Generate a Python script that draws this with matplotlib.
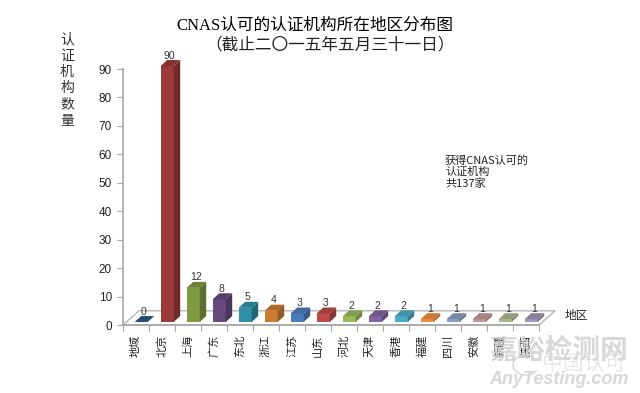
import matplotlib
matplotlib.use("Agg")
import matplotlib.pyplot as plt
from matplotlib.colors import to_rgb
from matplotlib.patches import Polygon, Arc

cjk = ["Noto Sans CJK SC", "DejaVu Sans"]
serif_cjk = ["Liberation Serif", "Noto Sans CJK SC"]
plt.rcParams["font.family"] = ["Liberation Sans", "Noto Sans CJK SC"]

regions = ["地域", "北京", "上海", "广东", "东北", "浙江", "江苏", "山东",
           "河北", "天津", "香港", "福建", "四川", "安徽", "新疆", "陕西"]
counts = [0, 90, 12, 8, 5, 4, 3, 3, 2, 2, 2, 1, 1, 1, 1, 1]
colors = ["#2a5a8a", "#9c3a3a", "#7f9a41", "#65497f", "#2f8fa6", "#cc7a30",
          "#4a7ebb", "#be4b48", "#9bbb59", "#8064a2", "#4bacc6", "#f0903f",
          "#8ba0c0", "#c49a98", "#a9bb8e", "#a497b8"]
y_ticks = list(range(0, 100, 10))

W, H = 640, 393
fig = plt.figure(figsize=(W / 100, H / 100), dpi=100)
ax = fig.add_axes([123 / W, 1 - 325 / H, 416 / W, 256 / H])
ax.set_xlim(0, len(regions))
ax.set_ylim(0, 90)
ax.patch.set_alpha(0)

# fake 3d depth, in data units
floor_dx, floor_dy = 0.62, 5
bar_w, bar_dx, bar_dy = 0.5, 0.25, 2.1
bar_shift, base = 0.2, 1.05


def shade(c, k):
    return tuple(v * k for v in to_rgb(c))


# floor of the chart
ax.add_patch(Polygon([(0, 0), (floor_dx, floor_dy), (len(regions) + floor_dx, floor_dy),
                      (len(regions), 0)], closed=True, fc="white", ec="#b5b5b5", lw=1,
                     clip_on=False, zorder=1))

for i, (v, c) in enumerate(zip(counts, colors)):
    x0 = i + 0.5 + bar_shift - bar_w / 2
    x1 = x0 + bar_w
    top = base + v
    ax.bar(x0, v, width=bar_w, bottom=base, align="edge", color=c, zorder=3, clip_on=False)
    ax.add_patch(Polygon([(x1, base), (x1 + bar_dx, base + bar_dy), (x1 + bar_dx, top + bar_dy),
                          (x1, top)], closed=True, fc=shade(c, 0.72), ec="none",
                         clip_on=False, zorder=3))
    ax.add_patch(Polygon([(x0, top), (x0 + bar_dx, top + bar_dy), (x1 + bar_dx, top + bar_dy),
                          (x1, top)], closed=True, fc=shade(c, 0.85), ec="none",
                         clip_on=False, zorder=3))
    ax.text(i + 0.5 + 0.3, top + bar_dy - 0.2, str(v), ha="center", va="bottom",
            fontsize=7.5, color="#333333", zorder=4)

for s in ["top", "right"]:
    ax.spines[s].set_visible(False)
for s in ["left", "bottom"]:
    ax.spines[s].set_color("#a6a6a6")
    ax.spines[s].set_linewidth(1.2)

ax.set_yticks(y_ticks)
ax.tick_params(axis="y", length=4, color="#a6a6a6", labelsize=8.5, labelcolor="#222222", pad=4)
ax.set_xticks(range(len(regions) + 1))
ax.tick_params(axis="x", which="major", length=4, color="#a6a6a6", labelbottom=False)
ax.set_xticks([i + 0.5 for i in range(len(regions))], minor=True)
ax.set_xticklabels(regions, minor=True, rotation=90, fontsize=8, color="#222222", family=cjk)
ax.tick_params(axis="x", which="minor", length=0, pad=7)

fig.text(315 / W, 1 - 26 / H, "CNAS认可的认证机构所在地区分布图", ha="center", va="center",
         fontsize=12, family=serif_cjk, color="black")
fig.text(330 / W, 1 - 45 / H, "（截止二〇一五年五月三十一日）", ha="center", va="center",
         fontsize=12, family=cjk, color="#222222")
fig.text(67 / W, 1 - 80 / H, "\n".join("认证机构数量"), ha="center", va="center",
         fontsize=10, family=cjk, color="#333333", linespacing=1.2)
fig.text(445 / W, 1 - 172 / H, "获得CNAS认可的\n认证机构\n共137家", ha="left", va="center",
         fontsize=8, family=cjk, color="#222222", linespacing=1.15)
fig.text(565 / W, 1 - 315 / H, "地区", ha="left", va="center", fontsize=8.5,
         family=cjk, color="#222222")

# watermark
fig.text(559 / W, 1 - 351 / H, "嘉峪检测网", ha="center", va="center", fontsize=20,
         family=cjk, weight="bold", color="#cfcfcf", alpha=0.8, zorder=10)
fig.text(584 / W, 1 - 364 / H, "中国认可", ha="center", va="center", fontsize=15,
         family=cjk, color="#dddddd", alpha=0.7, zorder=11)
fig.text(559 / W, 1 - 380 / H, "AnyTesting.com", ha="center", va="center", fontsize=13,
         style="italic", weight="bold", color="#d8d8d8", zorder=10)
fig.add_artist(Arc((526 / W, 1 - 365 / H), 26 / W, 20 / H, theta1=60, theta2=320,
                   transform=fig.transFigure, color="#d8d8d8", lw=1))

fig.savefig("out.png", dpi=100)
